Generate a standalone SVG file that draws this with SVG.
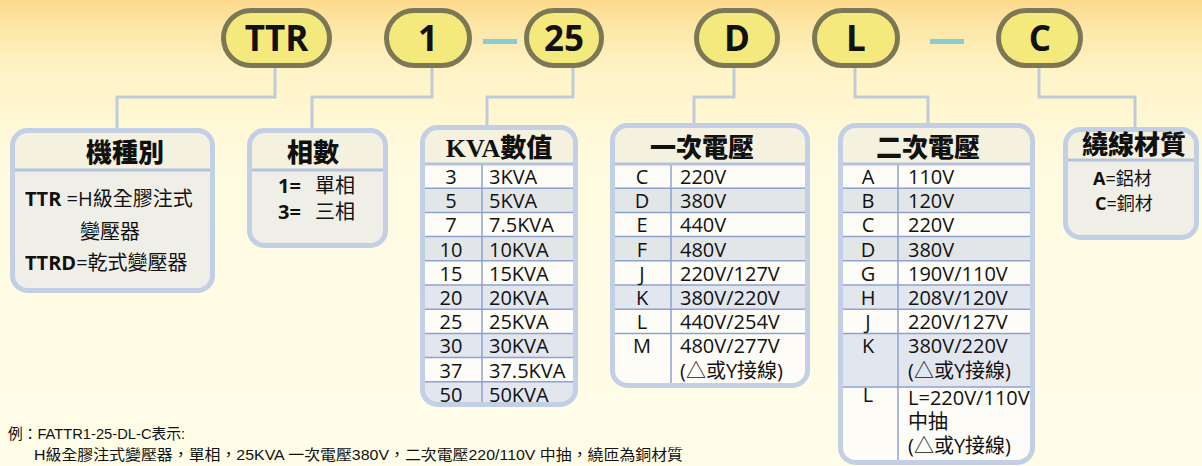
<svg xmlns="http://www.w3.org/2000/svg" width="1202" height="466" viewBox="0 0 1202 466">
<defs>
<linearGradient id="bg" x1="0" y1="0" x2="0" y2="1">
<stop offset="0" stop-color="#fcd98c"/>
<stop offset="0.06" stop-color="#fde7a8"/>
<stop offset="0.16" stop-color="#fff4c8"/>
<stop offset="0.35" stop-color="#fffbe0"/>
<stop offset="1" stop-color="#fffde9"/>
</linearGradient>
<clipPath id="c1"><rect x="12.5" y="130.5" width="200" height="160" rx="15"/></clipPath>
<clipPath id="c2"><rect x="249.5" y="130.5" width="136" height="115" rx="15"/></clipPath>
<clipPath id="c3"><rect x="422.5" y="127.5" width="153" height="277" rx="15"/></clipPath>
<clipPath id="c4"><rect x="612.5" y="125.5" width="195" height="260" rx="15"/></clipPath>
<clipPath id="c5"><rect x="840.5" y="125.5" width="192" height="337" rx="15"/></clipPath>
<clipPath id="c6"><rect x="1065.5" y="129.5" width="131" height="108" rx="15"/></clipPath>
</defs>
<style>
.pill{fill:#f4e97c;stroke:#7c7755;stroke-width:5}
.pt{font-family:"Open Sans","DejaVu Sans",sans-serif;font-weight:bold;font-size:35px;fill:#111;text-anchor:middle}
.dash{stroke:#88ccd5;stroke-width:5}
.conn{fill:none;stroke:#c0cbd9;stroke-width:3}
.body{fill:#efefe8}
.wbody{fill:#fdfcf6}
.head{fill:#f4f2df}
.border{fill:none;stroke:#c3cfe5;stroke-width:5}
.hline{stroke:#b4c2de;stroke-width:3}
.rline{stroke:#8ea2d0;stroke-width:1.5}
.g1{fill:#e3e6e7}
.g2{fill:#e1e6ef}
.title{font-family:"Liberation Serif","Noto Sans CJK TC",serif;font-weight:900;font-size:26px;fill:#111;text-anchor:middle}
.t{font-family:"Open Sans","Noto Sans CJK TC",sans-serif;font-size:20px;fill:#111}
.tc{font-family:"Open Sans","Noto Sans CJK TC",sans-serif;font-size:20px;fill:#111;text-anchor:middle}
.b{font-weight:bold}
.t18{font-family:"Open Sans","Noto Sans CJK TC",sans-serif;font-size:18px;fill:#111}
.note{font-family:"Liberation Sans","Noto Sans CJK TC",sans-serif;font-size:15px;fill:#111}
</style>
<rect x="0" y="0" width="1202" height="466" fill="url(#bg)"/>

<g id="connectors">
<polyline class="conn" points="275,68 275,97 117,97 117,129"/>
<polyline class="conn" points="432,68 432,97 312,97 312,129"/>
<polyline class="conn" points="573,68 573,97 487,97 487,126"/>
<polyline class="conn" points="734,68 734,97 694,97 694,124"/>
<polyline class="conn" points="855,68 855,97 928,97 928,124"/>
<polyline class="conn" points="1039,68 1039,97 1135,97 1135,128"/>
<line class="dash" x1="483" y1="41.5" x2="517" y2="41.5"/>
<line class="dash" x1="930" y1="41.5" x2="964" y2="41.5"/>
</g>

<g id="pill-TTR"><rect class="pill" x="223.5" y="10.5" width="106" height="55" rx="27.5"/><text class="pt" x="276.5" y="51">TTR</text></g>
<g id="pill-1"><rect class="pill" x="386.5" y="10.5" width="83" height="55" rx="27.5"/><text class="pt" x="428" y="51">1</text></g>
<g id="pill-25"><rect class="pill" x="526.5" y="10.5" width="75" height="55" rx="27.5"/><text class="pt" x="564" y="51">25</text></g>
<g id="pill-D"><rect class="pill" x="696.5" y="10.5" width="81" height="55" rx="27.5"/><text class="pt" x="737" y="51">D</text></g>
<g id="pill-L"><rect class="pill" x="814.5" y="10.5" width="83" height="55" rx="27.5"/><text class="pt" x="856" y="51">L</text></g>
<g id="pill-C"><rect class="pill" x="998.5" y="10.5" width="82" height="55" rx="27.5"/><text class="pt" x="1040" y="51">C</text></g>

<g id="box-type">
<g clip-path="url(#c1)">
<rect class="body" x="10" y="128" width="205" height="165"/>
<rect class="head" x="10" y="128" width="205" height="42"/>
</g>
<line class="hline" x1="12.5" y1="170" x2="212.5" y2="170"/>
<rect class="border" x="12.5" y="130.5" width="200" height="160" rx="15"/>
<text class="title" x="125" y="162">機種別</text>
<text class="t" x="25" y="206"><tspan class="b">TTR</tspan> =H級全膠注式</text>
<text class="t" x="80" y="239">變壓器</text>
<text class="t" x="25" y="270"><tspan class="b">TTRD</tspan>=乾式變壓器</text>
</g>

<g id="box-phase">
<g clip-path="url(#c2)">
<rect class="body" x="247" y="128" width="141" height="120"/>
<rect class="head" x="247" y="128" width="141" height="42"/>
</g>
<line class="hline" x1="249.5" y1="170" x2="385.5" y2="170"/>
<rect class="border" x="249.5" y="130.5" width="136" height="115" rx="15"/>
<text class="title" x="313" y="162">相數</text>
<text class="t" x="278" y="193"><tspan class="b">1=</tspan><tspan x="315">單相</tspan></text>
<text class="t" x="278" y="219"><tspan class="b">3=</tspan><tspan x="315">三相</tspan></text>
</g>

<g id="box-kva">
<g clip-path="url(#c3)">
<rect class="wbody" x="420" y="125" width="158" height="282"/>
<rect class="head" x="420" y="125" width="158" height="39"/>
<rect class="g1" x="420" y="188.2" width="158" height="24.2"/>
<rect class="g1" x="420" y="236.6" width="158" height="24.2"/>
<rect class="g2" x="420" y="285" width="158" height="24.2"/>
<rect class="g2" x="420" y="333.4" width="158" height="24.2"/>
<rect class="g2" x="420" y="381.8" width="158" height="26"/>
<line class="rline" x1="420" y1="188.2" x2="578" y2="188.2"/>
<line class="rline" x1="420" y1="212.4" x2="578" y2="212.4"/>
<line class="rline" x1="420" y1="236.6" x2="578" y2="236.6"/>
<line class="rline" x1="420" y1="260.8" x2="578" y2="260.8"/>
<line class="rline" x1="420" y1="285" x2="578" y2="285"/>
<line class="rline" x1="420" y1="309.2" x2="578" y2="309.2"/>
<line class="rline" x1="420" y1="333.4" x2="578" y2="333.4"/>
<line class="rline" x1="420" y1="357.6" x2="578" y2="357.6"/>
<line class="rline" x1="420" y1="381.8" x2="578" y2="381.8"/>
<line class="rline" x1="482" y1="164" x2="482" y2="407"/>
</g>
<line class="hline" x1="422.5" y1="164" x2="575.5" y2="164"/>
<rect class="border" x="422.5" y="127.5" width="153" height="277" rx="15"/>
<text class="title" x="499" y="157">KVA數值</text>
<text class="tc" x="451" y="184">3</text><text class="t" x="489" y="184">3KVA</text>
<text class="tc" x="451" y="208.2">5</text><text class="t" x="489" y="208.2">5KVA</text>
<text class="tc" x="451" y="232.4">7</text><text class="t" x="489" y="232.4">7.5KVA</text>
<text class="tc" x="451" y="256.6">10</text><text class="t" x="489" y="256.6">10KVA</text>
<text class="tc" x="451" y="280.8">15</text><text class="t" x="489" y="280.8">15KVA</text>
<text class="tc" x="451" y="305">20</text><text class="t" x="489" y="305">20KVA</text>
<text class="tc" x="451" y="329.2">25</text><text class="t" x="489" y="329.2">25KVA</text>
<text class="tc" x="451" y="353.4">30</text><text class="t" x="489" y="353.4">30KVA</text>
<text class="tc" x="451" y="377.6">37</text><text class="t" x="489" y="377.6">37.5KVA</text>
<text class="tc" x="451" y="401.8">50</text><text class="t" x="489" y="401.8">50KVA</text>
</g>

<g id="box-primary">
<g clip-path="url(#c4)">
<rect class="wbody" x="610" y="123" width="200" height="265"/>
<rect class="head" x="610" y="123" width="200" height="41"/>
<rect class="g1" x="610" y="188.2" width="200" height="24.2"/>
<rect class="g1" x="610" y="236.6" width="200" height="24.2"/>
<rect class="g2" x="610" y="285" width="200" height="24.2"/>
<line class="rline" x1="610" y1="188.2" x2="810" y2="188.2"/>
<line class="rline" x1="610" y1="212.4" x2="810" y2="212.4"/>
<line class="rline" x1="610" y1="236.6" x2="810" y2="236.6"/>
<line class="rline" x1="610" y1="260.8" x2="810" y2="260.8"/>
<line class="rline" x1="610" y1="285" x2="810" y2="285"/>
<line class="rline" x1="610" y1="309.2" x2="810" y2="309.2"/>
<line class="rline" x1="610" y1="333.4" x2="810" y2="333.4"/>
<line class="rline" x1="671" y1="164" x2="671" y2="388"/>
</g>
<line class="hline" x1="612.5" y1="164" x2="807.5" y2="164"/>
<rect class="border" x="612.5" y="125.5" width="195" height="260" rx="15"/>
<text class="title" x="702" y="157">一次電壓</text>
<text class="tc" x="642" y="184">C</text><text class="t" x="680" y="184">220V</text>
<text class="tc" x="642" y="208.2">D</text><text class="t" x="680" y="208.2">380V</text>
<text class="tc" x="642" y="232.4">E</text><text class="t" x="680" y="232.4">440V</text>
<text class="tc" x="642" y="256.6">F</text><text class="t" x="680" y="256.6">480V</text>
<text class="tc" x="642" y="280.8">J</text><text class="t" x="680" y="280.8">220V/127V</text>
<text class="tc" x="642" y="305">K</text><text class="t" x="680" y="305">380V/220V</text>
<text class="tc" x="642" y="329.2">L</text><text class="t" x="680" y="329.2">440V/254V</text>
<text class="tc" x="642" y="353.4">M</text><text class="t" x="680" y="353.4">480V/277V</text>
<text class="t" x="680" y="378">(△或Y接線)</text>
</g>

<g id="box-secondary">
<g clip-path="url(#c5)">
<rect class="wbody" x="838" y="123" width="197" height="343"/>
<rect class="head" x="838" y="123" width="197" height="41"/>
<rect class="g1" x="838" y="188.2" width="197" height="24.2"/>
<rect class="g1" x="838" y="236.6" width="197" height="24.2"/>
<rect class="g2" x="838" y="285" width="197" height="24.2"/>
<rect class="g2" x="838" y="333.4" width="197" height="53.6"/>
<line class="rline" x1="838" y1="188.2" x2="1035" y2="188.2"/>
<line class="rline" x1="838" y1="212.4" x2="1035" y2="212.4"/>
<line class="rline" x1="838" y1="236.6" x2="1035" y2="236.6"/>
<line class="rline" x1="838" y1="260.8" x2="1035" y2="260.8"/>
<line class="rline" x1="838" y1="285" x2="1035" y2="285"/>
<line class="rline" x1="838" y1="309.2" x2="1035" y2="309.2"/>
<line class="rline" x1="838" y1="333.4" x2="1035" y2="333.4"/>
<line class="rline" x1="838" y1="387" x2="1035" y2="387"/>
<line class="rline" x1="898" y1="164" x2="898" y2="466"/>
</g>
<line class="hline" x1="840.5" y1="164" x2="1032.5" y2="164"/>
<rect class="border" x="840.5" y="125.5" width="192" height="337" rx="15"/>
<text class="title" x="928" y="157">二次電壓</text>
<text class="tc" x="868" y="184">A</text><text class="t" x="908" y="184">110V</text>
<text class="tc" x="868" y="208.2">B</text><text class="t" x="908" y="208.2">120V</text>
<text class="tc" x="868" y="232.4">C</text><text class="t" x="908" y="232.4">220V</text>
<text class="tc" x="868" y="256.6">D</text><text class="t" x="908" y="256.6">380V</text>
<text class="tc" x="868" y="280.8">G</text><text class="t" x="908" y="280.8">190V/110V</text>
<text class="tc" x="868" y="305">H</text><text class="t" x="908" y="305">208V/120V</text>
<text class="tc" x="868" y="329.2">J</text><text class="t" x="908" y="329.2">220V/127V</text>
<text class="tc" x="868" y="353.4">K</text><text class="t" x="908" y="353.4">380V/220V</text>
<text class="t" x="908" y="378">(△或Y接線)</text>
<text class="tc" x="868" y="402">L</text><text class="t" x="908" y="405">L=220V/110V</text>
<text class="t" x="908" y="429">中抽</text>
<text class="t" x="908" y="453">(△或Y接線)</text>
</g>

<g id="box-winding">
<g clip-path="url(#c6)">
<rect class="body" x="1063" y="127" width="136" height="113"/>
<rect class="head" x="1063" y="127" width="136" height="33"/>
</g>
<line class="hline" x1="1065.5" y1="160" x2="1196.5" y2="160"/>
<rect class="border" x="1065.5" y="129.5" width="131" height="108" rx="15"/>
<text class="title" x="1134" y="154">繞線材質</text>
<text class="t18" x="1093" y="185"><tspan class="b">A</tspan>=鋁材</text>
<text class="t18" x="1095" y="210"><tspan class="b">C</tspan>=銅材</text>
</g>

<g id="note">
<text class="note" x="8" y="439" textLength="177" lengthAdjust="spacingAndGlyphs">例：FATTR1-25-DL-C表示:</text>
<text class="note" x="34" y="460" textLength="649" lengthAdjust="spacingAndGlyphs">H級全膠注式變壓器，單相，25KVA 一次電壓380V，二次電壓220/110V 中抽，繞匝為銅材質</text>
</g>
</svg>
